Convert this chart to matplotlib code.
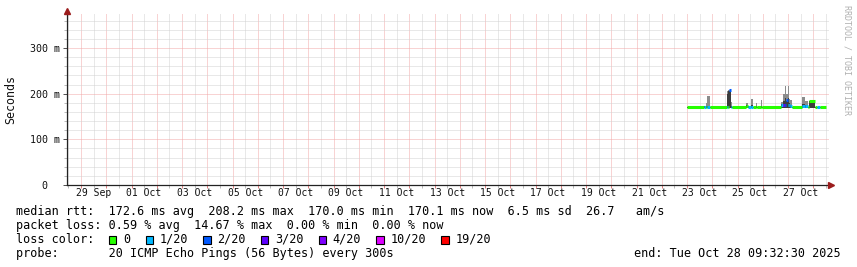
import matplotlib
matplotlib.use('Agg')
import matplotlib.pyplot as plt
import matplotlib.transforms as mtransforms
from matplotlib.patches import Rectangle
import numpy as np

# ---------------- data ----------------
date_labels = ['29 Sep', '01 Oct', '03 Oct', '05 Oct', '07 Oct', '09 Oct', '11 Oct',
               '13 Oct', '15 Oct', '17 Oct', '19 Oct', '21 Oct', '23 Oct', '25 Oct', '27 Oct']
ytick_values = [0, 100, 200, 300]
ytick_labels = ['  0', '100 m', '200 m', '300 m']

# segments: start hour (from 23 Oct 00:00), median rtt (ms), lost pings (of 20),
# inner smoke top (ms), outer smoke top (ms)
seg_start_h = [0, 16, 18, 19, 22, 38, 39, 40, 42, 43, 56, 58, 61, 63, 66, 67, 70, 71,
               89, 91, 93, 94, 96, 97, 98, 100, 109, 112, 115, 116, 122, 124, 126.5]
seg_end_h = 132.5
median_ms = [170.5, 170.5, 170.5, 170.5, 170.5, 171.0, 171.0, 208.0, 171.0, 170.5, 174.0, 170.5,
             170.5, 170.5, 170.5, 170.5, 170.5, 170.5, 175.0, 175.0, 175.0, 186.0, 176.0, 176.0,
             172.0, 170.5, 172.0, 172.0, 170.5, 184.5, 170.5, 170.5, 170.5]
loss_count = [0, 1, 0, 1, 0, 1, 0, 2, 1, 0, 0, 1, 1, 0, 0, 0, 0, 0,
              1, 3, 2, 2, 1, 1, 1, 0, 1, 1, 0, 0, 0, 1, 0]
smoke_mid = [171, 172, 172, 174, 171, 200, 205, 206, 172, 171, 176, 172, 175, 171, 172, 171, 173, 171,
             178, 185, 190, 185, 190, 180, 176, 171, 178, 175, 171, 184, 171, 171, 171]
smoke_max = [171, 173, 180, 195, 171, 206, 207, 209, 182, 171, 179, 174, 188, 171, 180, 171, 186, 171,
             182, 199, 217, 199, 217, 188, 186, 171, 193, 185, 171, 185, 171, 171, 171]

loss_levels = [0, 1, 2, 3, 4, 10, 19]
loss_names = ['0', '1/20', '2/20', '3/20', '4/20', '10/20', '19/20']
loss_colors = ['#26ff00', '#00b8ff', '#0059ff', '#5e00ff', '#7e00ff', '#dd00ff', '#ff0000']

legend_rows = [
    'median rtt:  172.6 ms avg  208.2 ms max  170.0 ms min  170.1 ms now  6.5 ms sd  26.7   am/s',
    'packet loss: 0.59 % avg  14.67 % max  0.00 % min  0.00 % now',
    'loss color:',
    'probe:       20 ICMP Echo Pings (56 Bytes) every 300s',
]
end_text = 'end: Tue Oct 28 09:32:30 2025'
watermark = 'RRDTOOL / TOBI OETIKER'

# ---------------- layout ----------------
W, H, DPI = 857, 267, 100
MONO = 'DejaVu Sans Mono'
plt.rcParams['font.family'] = MONO

fig = plt.figure(figsize=(W / DPI, H / DPI), dpi=DPI, facecolor='white')
L, R, T, B = 67, 829, 13, 185
ax = fig.add_axes([L / W, 1 - B / H, (R - L) / W, (B - T) / H])
ax.set_facecolor('white')

px_per_day = 25.25
x0_px = 81.0  # 29 Sep 00:00
ax.set_xlim((L - x0_px) / px_per_day, (R - x0_px) / px_per_day)
ax.set_ylim(0, (B - T) / 45.67 * 100)

RED_GRID = '#f2a8a8'
GRAY_GRID = '#d2d2d2'
dots = (0, (1, 1))

xmaj = np.arange(0, 30)
xmin = np.arange(-0.5, 30, 1.0)
ax.set_xticks(xmaj)
ax.set_xticks(xmin, minor=True)
ax.set_yticks(ytick_values)
ax.set_yticks(np.arange(20, 380, 20), minor=True)
ax.set_xticklabels([])
ax.set_yticklabels([])
ax.grid(which='major', color=RED_GRID, linestyle=dots, linewidth=0.72)
ax.grid(which='minor', color=GRAY_GRID, linestyle=dots, linewidth=0.72)
ax.set_axisbelow(True)
ax.tick_params(which='major', direction='out', length=2.2, width=0.72, color='#e08080')
ax.tick_params(which='minor', direction='out', length=2.2, width=0.72, color='#bbbbbb')
ax.tick_params(axis='y', which='major', length=3, color='#555555')

for s in ['top', 'right']:
    ax.spines[s].set_visible(False)
for s in ['left', 'bottom']:
    ax.spines[s].set_color('#222222')
    ax.spines[s].set_linewidth(0.9)

# arrows
ax.plot([0], [1 + 2.5 / (B - T)], marker='^', markersize=4.5, color='#9b1c1c',
        transform=ax.transAxes, clip_on=False, zorder=10)
ax.plot([1 + 2.5 / (R - L)], [0], marker='>', markersize=4.5, color='#9b1c1c',
        transform=ax.transAxes, clip_on=False, zorder=10)

# ---------------- data drawing ----------------
def to_day(h):
    return 24.0 + h / 24.0

edges = [to_day(h) for h in seg_start_h] + [to_day(seg_end_h)]
base = 169.0
for i in range(len(seg_start_h)):
    xa, xb = edges[i], edges[i + 1]
    if smoke_max[i] > smoke_mid[i]:
        ax.fill_between([xa, xb], base, smoke_max[i], color='#8c8c8c', linewidth=0, zorder=2)
    ax.fill_between([xa, xb], base, smoke_mid[i], color='#3c3c3c', linewidth=0, zorder=3)

def color_for(n):
    c = loss_colors[0]
    for lv, col in zip(loss_levels, loss_colors):
        if n >= lv:
            c = col
    return c

for i in range(len(seg_start_h)):
    ax.hlines(median_ms[i], edges[i], edges[i + 1], color=color_for(loss_count[i]),
              linewidth=2.2, zorder=5)

# ---------------- text ----------------
# y tick labels
ylab_tr = mtransforms.offset_copy(mtransforms.blended_transform_factory(fig.transFigure, ax.transData),
                                  fig=fig, x=0, y=-4, units='dots')
for v, lab in zip(ytick_values, ytick_labels):
    ax.text(30 / W, v, lab, transform=ylab_tr, ha='left', va='baseline', fontsize=7.2,
            family=MONO, color='#111111')

# x tick labels (centred at noon of each labelled day)
xlab_tr = mtransforms.blended_transform_factory(ax.transData, fig.transFigure)
for i, lab in enumerate(date_labels):
    ax.text(i * 2 + 0.5, 1 - 196 / H, lab, transform=xlab_tr, ha='center', va='baseline',
            fontsize=7.0, family=MONO, color='#111111')

fig.text(10.5 / W, 1 - 99 / H, 'Seconds', rotation=90, ha='center', va='center',
         fontsize=8.4, family=MONO, color='#111111')
fig.text(847.5 / W, 1 - 60 / H, watermark, rotation=-90, ha='center', va='center',
         fontsize=6.0, family=MONO, color='#b0b0b0')

FS = 8.44
CH = 7.04
baselines = [215, 229, 243, 257]
for row, yb in zip(legend_rows, baselines):
    fig.text(16 / W, 1 - yb / H, row, ha='left', va='baseline', fontsize=FS, family=MONO,
             color='#000000')
fig.text(840.5 / W, 1 - 257 / H, end_text, ha='right', va='baseline', fontsize=FS,
         family=MONO, color='#000000')

cursor = 13.2
for name, col in zip(loss_names, loss_colors):
    bx = 16 + cursor * CH
    fig.add_artist(Rectangle((bx / W, 1 - 243.5 / H), 7.5 / W, 8 / H, transform=fig.transFigure,
                             facecolor=col, edgecolor='#000000', linewidth=0.8))
    lx = cursor + 2.0
    fig.text((16 + lx * CH) / W, 1 - 243 / H, name, ha='left', va='baseline', fontsize=FS,
             family=MONO, color='#000000')
    cursor = lx + len(name) + 2.2

fig.savefig('out.png', dpi=DPI, facecolor='white')
